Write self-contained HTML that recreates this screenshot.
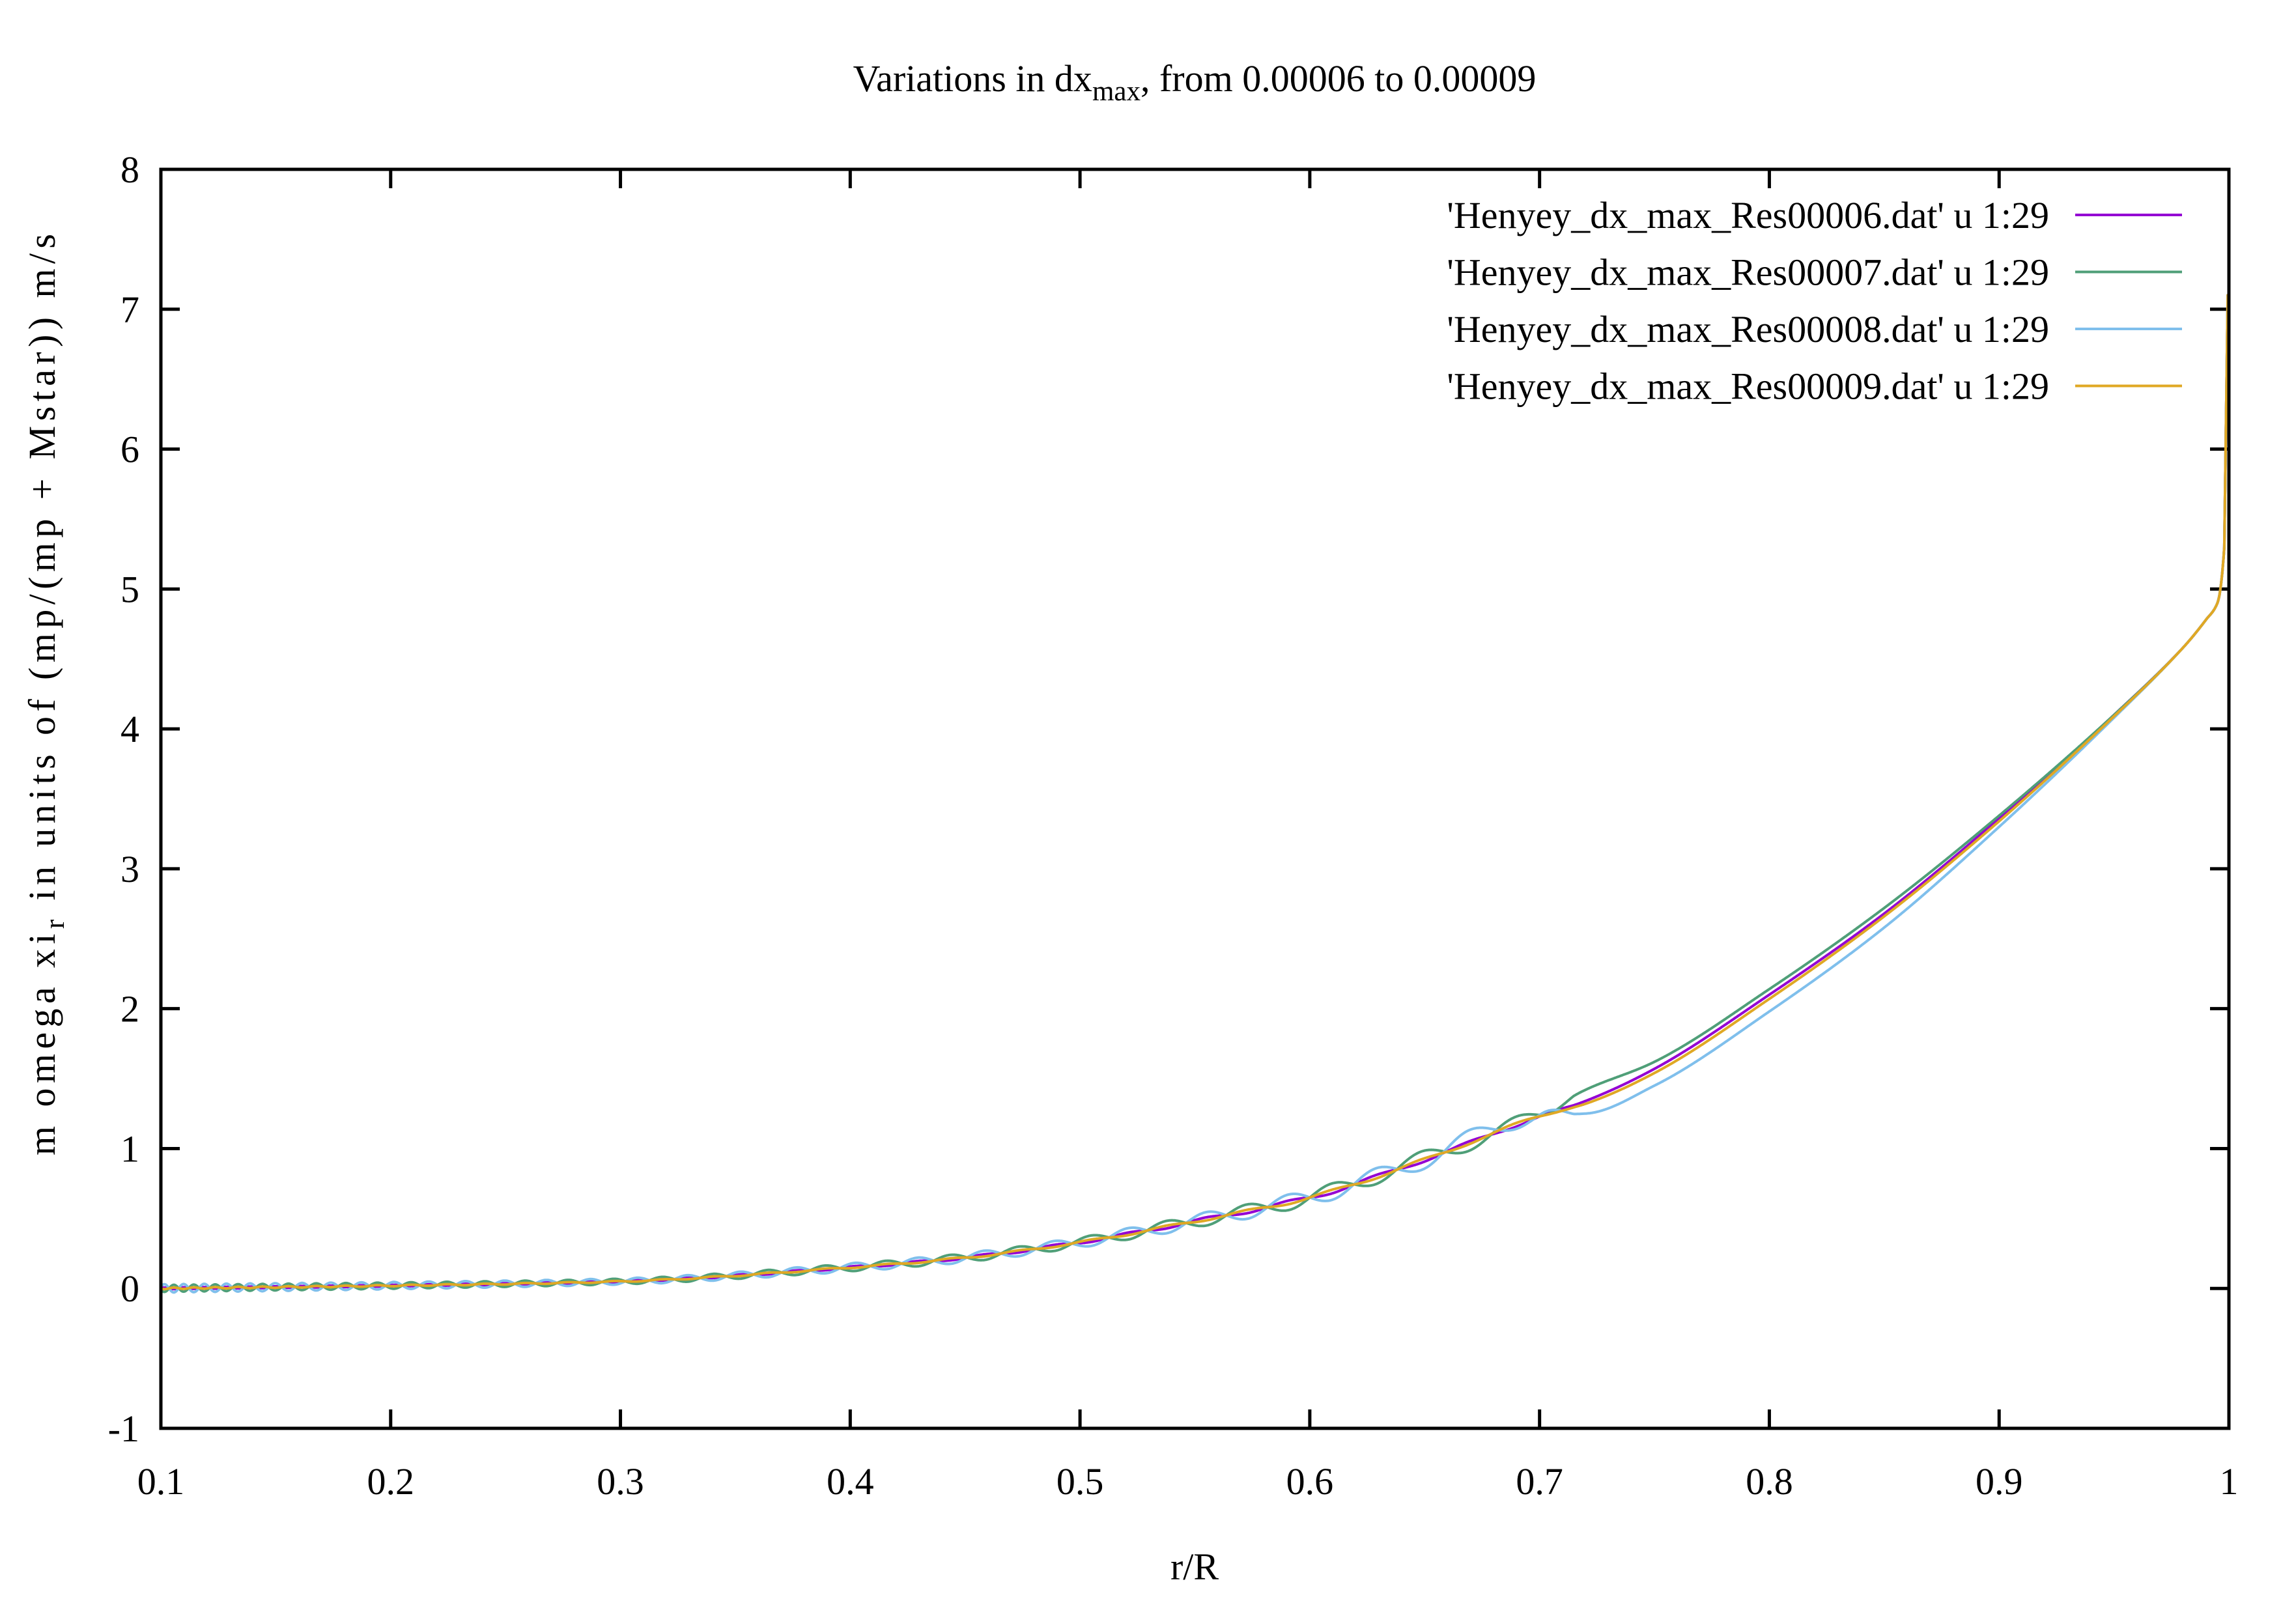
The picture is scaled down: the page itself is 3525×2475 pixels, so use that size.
<!DOCTYPE html>
<html><head><meta charset="utf-8"><style>
html,body{margin:0;padding:0;background:#fff}
svg{display:block}
text{font-family:"Liberation Serif",serif;fill:#000}
</style></head><body>
<svg id="chart" width="3525" height="2475" viewBox="0 0 3525 2475" xmlns="http://www.w3.org/2000/svg">
<rect width="3525" height="2475" fill="#fff"/>
<text x="1834" y="140" font-size="58" text-anchor="middle">Variations in dx<tspan font-size="43" dy="14">max</tspan><tspan dy="-14">, from 0.00006 to 0.00009</tspan></text>
<g id="grid"></g>
<g id="series"></g>
<rect x="247" y="260" width="3175" height="1933" fill="none" stroke="#000" stroke-width="5"/>
<text x="1834" y="2425" font-size="58" text-anchor="middle">r/R</text>
<text transform="translate(84,1067) rotate(-90)" x="-707" y="0" font-size="58" textLength="1415" lengthAdjust="spacing">m omega xi<tspan font-size="43" dy="14">r</tspan><tspan dy="-14"> in units of (mp/(mp + Mstar)) m/s</tspan></text>
<g id="legend"></g>
</svg>
<script>
const xTicks=[0.1,0.2,0.3,0.4,0.5,0.6,0.7,0.8,0.9,1];
const xTickLabels=["0.1","0.2","0.3","0.4","0.5","0.6","0.7","0.8","0.9","1"];
const yTicks=[-1,0,1,2,3,4,5,6,7,8];
const yTickLabels=["-1","0","1","2","3","4","5","6","7","8"];
const seriesNames=["'Henyey_dx_max_Res00006.dat' u 1:29","'Henyey_dx_max_Res00007.dat' u 1:29","'Henyey_dx_max_Res00008.dat' u 1:29","'Henyey_dx_max_Res00009.dat' u 1:29"];
const seriesColors=["#9400d3","#4f9f78","#7fbfec","#e0a824"];
const xs=[0.1,0.2,0.3,0.4,0.45,0.5,0.55,0.6,0.65,0.7,0.72,0.75,0.8,0.85,0.9,0.95,0.98,0.99,0.995,0.998,0.9995,1.0];
const purpleY=[0,0.02,0.05,0.15,0.22,0.33,0.48,0.65,0.92,1.23,1.34,1.57,2.1,2.68,3.36,4.1,4.58,4.78,4.9,5.3,7.1,7.1];
const greenY=[0,0.02,0.05,0.15,0.22,0.33,0.48,0.65,0.93,1.24,1.42,1.62,2.14,2.72,3.38,4.1,4.58,4.78,4.9,5.3,7.1,7.1];
const blueY=[0,0.02,0.05,0.15,0.22,0.33,0.48,0.65,0.92,1.24,1.25,1.45,1.98,2.58,3.3,4.08,4.58,4.78,4.9,5.3,7.1,7.1];
const yellowY=[0,0.02,0.05,0.15,0.22,0.33,0.48,0.65,0.92,1.23,1.32,1.54,2.07,2.66,3.34,4.09,4.58,4.78,4.9,5.3,7.1,7.1];
const ampX=[0.1,0.3,0.5,0.6,0.7,0.715,1.0];
const purpleAmp=[0.006,0.005,0.01,0.015,0.012,0,0];
const greenAmp=[-0.025,-0.02,-0.035,-0.055,-0.06,0,0];
const blueAmp=[0.03,0.022,0.038,0.06,0.07,0,0];
const yellowAmp=[-0.005,-0.004,-0.007,-0.012,-0.01,0,0];
const finalDrop=[2.0,2.0,2.0,2.0];

const L=247,R=3422,T=260,B=2193;
const xS=v=>L+(v-0.1)/0.9*(R-L);
const yS=v=>B-(v+1)/9*(B-T);
const NS="http://www.w3.org/2000/svg";
function mk(tag,attrs,parent){const e=document.createElementNS(NS,tag);for(const k in attrs)e.setAttribute(k,attrs[k]);parent.appendChild(e);return e;}
const grid=document.getElementById('grid');
xTicks.forEach((v,i)=>{
  const x=xS(v);
  const t1=mk('line',{x1:x,y1:B,x2:x,y2:B-29,stroke:'#000','stroke-width':5},grid);
  
  
  const t2=mk('line',{x1:x,y1:T,x2:x,y2:T+29,stroke:'#000','stroke-width':5},grid);
  
  
  const tx=mk('text',{x:x,y:2294,'font-size':58,'text-anchor':'middle'},grid);
  tx.textContent=xTickLabels[i];
  
  
});
yTicks.forEach((v,i)=>{
  const y=yS(v);
  const t1=mk('line',{x1:L,y1:y,x2:L+29,y2:y,stroke:'#000','stroke-width':5},grid);
  
  
  const t2=mk('line',{x1:R,y1:y,x2:R-29,y2:y,stroke:'#000','stroke-width':5},grid);
  
  
  const tx=mk('text',{x:214,y:y+20,'font-size':58,'text-anchor':'end'},grid);
  tx.textContent=yTickLabels[i];
  
  
});
function lin(ax,ay,x){for(let i=0;i<ax.length-1;i++){if(x<=ax[i+1]){const t=(x-ax[i])/(ax[i+1]-ax[i]);return ay[i]+t*(ay[i+1]-ay[i]);}}return ay[ay.length-1];}
function mono(ax,ay,x){
  const n=ax.length;let i=0;while(i<n-2&&x>ax[i+1])i++;
  const h=ax[i+1]-ax[i];
  const d=k=>(ay[k+1]-ay[k])/(ax[k+1]-ax[k]);
  const m=k=>{if(k===0)return d(0);if(k===n-1)return d(n-2);const a=d(k-1),b=d(k);if(a*b<=0)return 0;return 2/(1/a+1/b);};
  const t=(x-ax[i])/h,t2=t*t,t3=t2*t;
  return (2*t3-3*t2+1)*ay[i]+(t3-2*t2+t)*h*m(i)+(-2*t3+3*t2)*ay[i+1]+(t3-t2)*h*m(i+1);
}
const c=0.058,p=0.14;
const phase=x=>2*Math.PI/(c*p)*(Math.pow(x,p)-Math.pow(0.7,p));
const sData=[purpleY,greenY,blueY,yellowY];
const aData=[purpleAmp,greenAmp,blueAmp,yellowAmp];
const sg=document.getElementById('series');
const lg=document.getElementById('legend');
sData.forEach((ys,si)=>{
  let d='';
  const N=3000;
  for(let k=0;k<=N;k++){
    const x=0.1+0.898*k/N;
    const y=mono(xs,ys,x)+lin(ampX,aData[si],x)*Math.sin(phase(x));
    d+=(k?'L':'M')+xS(x).toFixed(1)+' '+yS(y).toFixed(1);
  }
  for(let j=xs.length-4;j<xs.length;j++){ if(xs[j]>0.998) d+='L'+xS(xs[j]).toFixed(1)+' '+yS(ys[j]).toFixed(1); }
  d+='L'+xS(1.0).toFixed(1)+' '+yS(finalDrop[si]).toFixed(1);
  const pth=mk('path',{d:d,fill:'none',stroke:seriesColors[si],'stroke-width':4,'stroke-linejoin':'round'},sg);
  
  
  const ly=330+si*87.5;
  const lt=mk('text',{x:3146,y:ly+20,'font-size':58,'text-anchor':'end'},lg);
  lt.textContent=seriesNames[si];
  
  
  const ll=mk('line',{x1:3186,y1:ly,x2:3350,y2:ly,stroke:seriesColors[si],'stroke-width':4},lg);
  
  
});
</script>
</body></html>
